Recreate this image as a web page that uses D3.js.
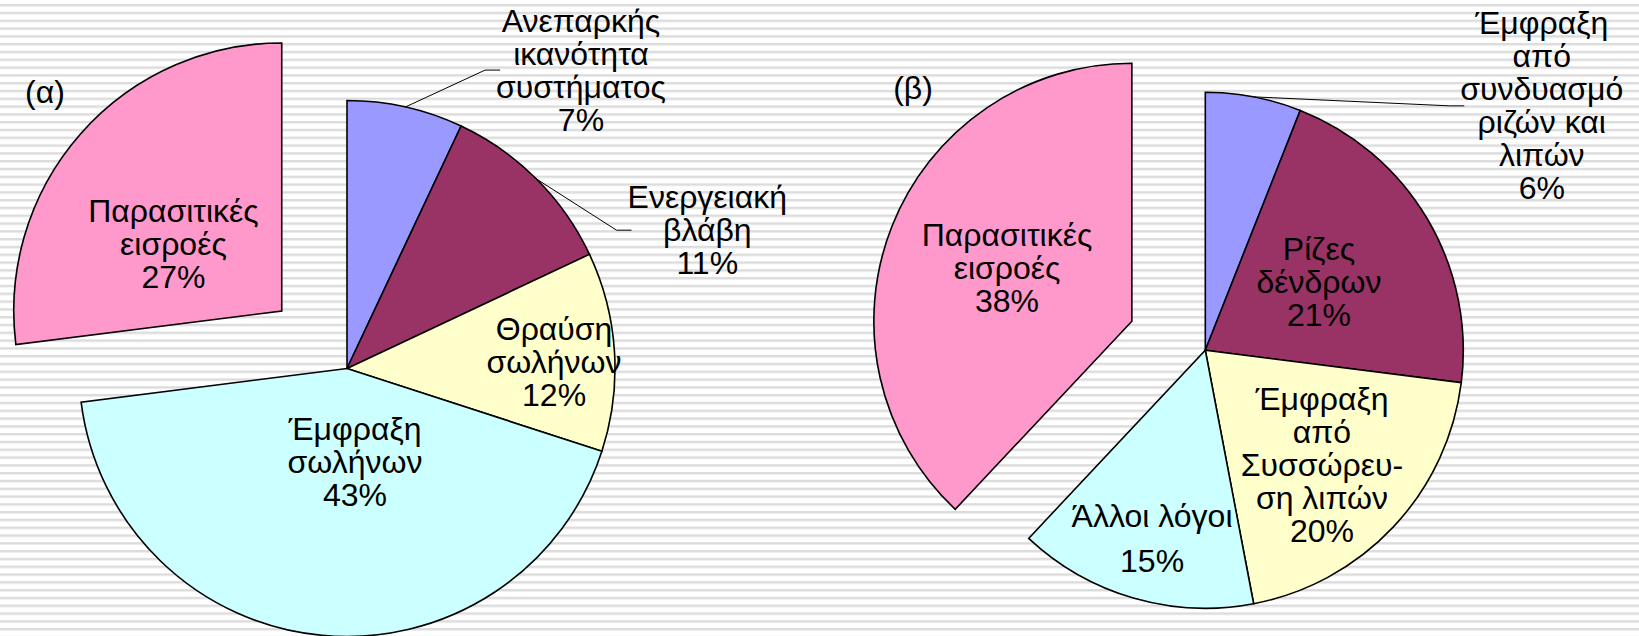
<!DOCTYPE html>
<html>
<head>
<meta charset="utf-8">
<script src="https://cdn.jsdelivr.net/npm/d3@7/dist/d3.min.js"></script>
<style>
body { margin: 0; background: #fff; overflow: hidden; }
svg text { font-family: "Liberation Sans", Arial, sans-serif; font-size: 32px; fill: #000; }
</style>
</head>
<body>
<script>
var w = 1639;
var h = 636;

// same palette for both pies, slice order clockwise from 12 o'clock
var colors = ["#9999FF", "#993366", "#FFFFCC", "#CCFFFF", "#FF99CC"];

var namesA = ["Ανεπαρκής\nικανότητα\nσυστήματος", "Ενεργειακή\nβλάβη", "Θραύση\nσωλήνων", "Έμφραξη\nσωλήνων", "Παρασιτικές\nεισροές"];
var valuesA = [7, 11, 12, 43, 27];

var namesB = ["Έμφραξη\nαπό\nσυνδυασμό\nριζών και\nλιπών", "Ρίζες\nδένδρων", "Έμφραξη\nαπό\nΣυσσώρευ-\nση λιπών", "Άλλοι λόγοι", "Παρασιτικές\nεισροές"];
var valuesB = [6, 21, 20, 15, 38];

var svg = d3.select("body").append("svg")
    .attr("width", w)
    .attr("height", h);

// striped slide background
var pat = svg.append("defs").append("pattern")
    .attr("id", "stripes")
    .attr("patternUnits", "userSpaceOnUse")
    .attr("width", 20)
    .attr("height", 7.8)
    .attr("y", 4);
pat.append("rect").attr("width", 20).attr("height", 2).attr("fill", "#dcdcdc");
pat.append("rect").attr("y", 2).attr("width", 20).attr("height", 1).attr("fill", "#ececec");

svg.append("rect").attr("width", w).attr("height", h).attr("fill", "#fff");
svg.append("rect").attr("width", w).attr("height", h).attr("fill", "url(#stripes)");

function drawPie(opt) {
    var g = svg.append("g").attr("transform", "translate(" + opt.cx + "," + opt.cy + ")");

    var pie = d3.pie().sort(null).value(function(d) { return d; });
    var arc = d3.arc().innerRadius(0).outerRadius(opt.r);
    var arcs = pie(opt.values);

    function mid(d) { return (d.startAngle + d.endAngle) / 2; }
    function shift(d, i) {
        if (i !== opt.explode) return [0, 0];
        var a = mid(d);
        return [opt.explodeBy * Math.sin(a), -opt.explodeBy * Math.cos(a)];
    }

    var slices = g.selectAll("g.slice")
        .data(arcs)
        .enter()
        .append("g")
        .attr("class", "slice")
        .attr("transform", function(d, i) {
            var s = shift(d, i);
            return "translate(" + s[0] + "," + s[1] + ")";
        });

    slices.append("path")
        .attr("d", arc)
        .attr("fill", function(d, i) { return colors[i]; })
        .attr("stroke", "#000")
        .attr("stroke-width", 1.6)
        .attr("stroke-linejoin", "miter");

    slices.each(function(d, i) {
        var sel = d3.select(this);
        var pos = opt.labels[i];
        var a = pos[1] * Math.PI / 180;
        var lx = pos[0] * opt.r * Math.sin(a);
        var ly = -pos[0] * opt.r * Math.cos(a);
        var lines = opt.names[i].split("\n").concat([opt.values[i] + "%"]);
        var lh = pos[2] || 33;
        var y0 = ly - (lines.length - 1) / 2 * lh + 11;

        var txt = sel.append("text").attr("text-anchor", "middle");
        var maxW = 0;
        lines.forEach(function(t, k) {
            var ts = txt.append("tspan")
                .attr("x", lx)
                .attr("y", y0 + k * lh)
                .text(t);
            maxW = Math.max(maxW, ts.node().getComputedTextLength());
        });

        if (opt.leaders.indexOf(i) >= 0) {
            var m = mid(d);
            var sx = opt.r * Math.sin(m);
            var sy = -opt.r * Math.cos(m);
            var ex = lx - maxW / 2 + 4;
            sel.insert("polyline", "text")
                .attr("points", [[sx, sy], [ex - 15, ly], [ex, ly]].join(" "))
                .attr("fill", "none")
                .attr("stroke", "#000")
                .attr("stroke-width", 1);
        }
    });

    g.append("text")
        .attr("x", opt.tag[1])
        .attr("y", opt.tag[2])
        .attr("text-anchor", "middle")
        .text(opt.tag[0]);
}

drawPie({
    cx: 347, cy: 368.5, r: 268,
    names: namesA, values: valuesA,
    explode: 4, explodeBy: 87,
    labels: [[1.415, 38.1], [1.44, 69], [0.773, 88.2], [0.35, 175.1], [0.475, 301.7]],
    leaders: [0, 1],
    tag: ["(α)", -302, -265.5]
});

drawPie({
    cx: 1205.3, cy: 350.3, r: 258,
    names: namesB, values: valuesB,
    explode: 4, explodeBy: 79,
    labels: [[1.612, 54], [0.514, 59], [0.634, 134.5], [0.758, 195.8, 45], [0.526, 293.1]],
    leaders: [0],
    tag: ["(β)", -292.3, -251.8]
});
</script>
</body>
</html>
